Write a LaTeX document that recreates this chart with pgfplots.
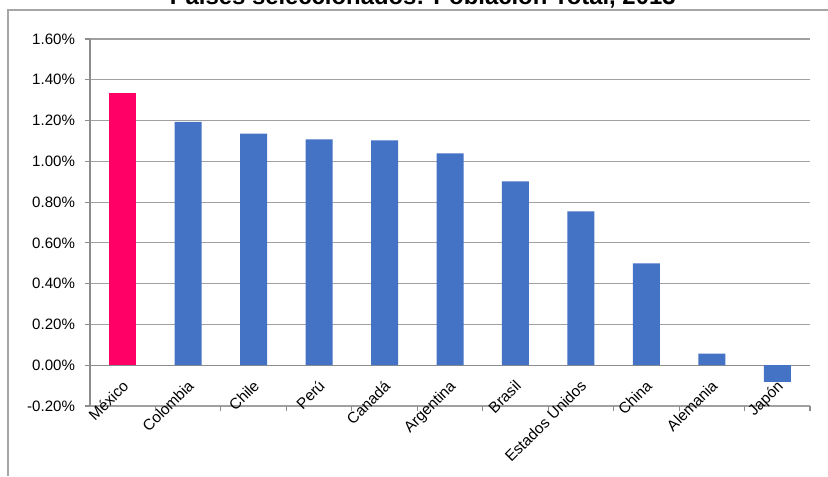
\documentclass[border=0pt]{standalone}
\usepackage{pgfplots}
\pgfplotsset{compat=1.18}
\usepackage{fontspec}
\setmainfont{Liberation Sans}
\definecolor{mexpink}{HTML}{FF0066}
\definecolor{barblue}{HTML}{4472C4}
\definecolor{gridgray}{HTML}{A0A0A0}
\definecolor{axisgray}{HTML}{8C8C8C}
\definecolor{framegray}{HTML}{A6A6A6}
\begin{document}
\begin{tikzpicture}
\useasboundingbox (0pt,0pt) rectangle (621pt,-357pt);
\clip (0pt,0pt) rectangle (621pt,-357pt);
% outer frame (left and top edges visible)
\draw[framegray, line width=1.2pt] (6pt,-357pt) -- (6pt,-7.5pt) -- (621pt,-7.5pt);
% title (mostly cut off at the top)
\node[anchor=base, inner sep=0pt, font=\fontsize{17.9}{20}\selectfont\bfseries] at (317pt,-3pt) {Países seleccionados: Población Total, 2013};
\begin{axis}[
  scale only axis,
  width=540pt, height=275.25pt,
  at={(67.5pt,-304.5pt)}, anchor=south west,
  xmin=-0.5, xmax=10.5, ymin=-0.2, ymax=1.6,
  axis x line*=middle, axis y line*=left,
  xtick pos=left, ytick pos=left,
  hide obscured x ticks=false, hide obscured y ticks=false,
  axis line style={draw=none},
  tick align=outside,
  ytick={-0.2,0,0.2,0.4,0.6,0.8,1.0,1.2,1.4,1.6},
  yticklabel={\pgfmathprintnumber[fixed,fixed zerofill,precision=2,assume math mode=true]{\tick}\%},
  y tick label style={font=\fontsize{11.3}{13}\selectfont, xshift=-4pt},
  xmajorgrids=false, ymajorgrids, grid style={draw=gridgray, line width=0.8pt},
  major y tick style={draw=axisgray, line width=0.8pt},
  major tick length=3.75pt,
  minor tick length=3.75pt,
  xtick={0,1,2,3,4,5,6,7,8,9,10},
  xticklabels={México,Colombia,Chile,Perú,Canadá,Argentina,Brasil,Estados Unidos,China,Alemania,Japón},
  x tick label style={font=\fontsize{11.5}{13}\selectfont, xshift=-1pt, yshift=-5pt, rotate=45, anchor=north east, inner sep=1pt},
  major x tick style={draw=none},
  minor xtick={0.5,1.5,2.5,3.5,4.5,5.5,6.5,7.5,8.5,9.5,10.5},
  minor x tick style={draw=axisgray, line width=0.8pt},
  extra x ticks={-0.5},
  extra x tick labels={},
  extra x tick style={xmajorgrids=true, major grid style={draw=axisgray, line width=0.8pt}, major x tick style={draw=none}},
  extra y ticks={0},
  extra y tick labels={},
  extra y tick style={ymajorgrids=true, major grid style={draw=axisgray, line width=0.8pt}},
  clip=false,
]
\addplot[ybar, bar width=20.25pt, bar shift=0pt, fill=mexpink, draw=none] coordinates {(0,1.333)};
\addplot[ybar, bar width=20.25pt, bar shift=0pt, fill=barblue, draw=none] coordinates {
(1,1.193) (2,1.136) (3,1.108) (4,1.103) (5,1.039) (6,0.902) (7,0.755) (8,0.500) (9,0.057) (10,-0.082)};
\end{axis}
\end{tikzpicture}
\end{document}
